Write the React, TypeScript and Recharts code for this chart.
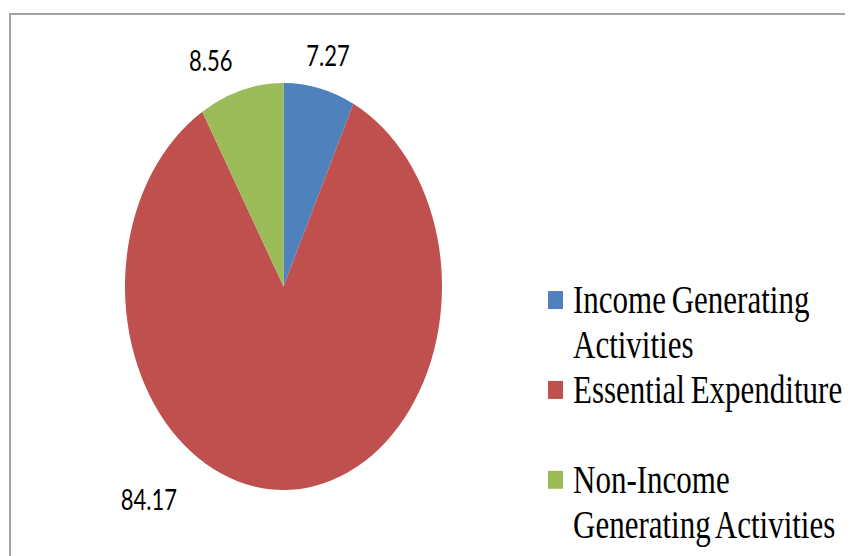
import React from "react";
import {Legend, Pie, PieChart} from "recharts";

const categories = ["Income Generating Activities", "Essential Expenditure", "Non-Income Generating Activities"];
const shares = [7.27, 84.17, 8.56];
const colors = ["#4F81BD", "#C0504D", "#9BBB59"];

// the original picture is stretched vertically, so the whole chart is scaled on y
const stretchY = 1.284;
const RADIAN = Math.PI / 180;

// per-slice nudge of the value labels (Excel "best fit" placement)
const labelNudge = [
    [3, -2],
    [-142, -18],
    [-24, 0.5],
];

const data = categories.map((name, i) => ({name, value: shares[i], fill: colors[i]}));

const renderLabel = (props: any) => {
    const {cx, cy, midAngle, outerRadius, value, index} = props;
    const r = outerRadius + 25;
    const x = cx + r * Math.cos(-midAngle * RADIAN) + labelNudge[index][0];
    const y = cy + r * Math.sin(-midAngle * RADIAN) + labelNudge[index][1];
    return (
        <text x={x} y={y} textAnchor="middle" dominantBaseline="central" fill="#000"
              fontFamily="Lato, 'Open Sans', sans-serif" fontSize={22}>
            {value.toFixed(2)}
        </text>
    );
};

const renderLegend = (props: any) => {
    // keep the data order (the legend sorts its items by name otherwise)
    const payload = [...(props.payload || [])].sort(
        (a: any, b: any) => categories.indexOf(a.value) - categories.indexOf(b.value)
    );
    return (
        <div style={{fontFamily: "'Liberation Serif', 'Times New Roman', serif", fontSize: 31, lineHeight: '35px', color: '#000'}}>
            {payload.map((entry: any, i: number) => (
                <div key={i} style={{position: 'relative', height: 70}}>
                    <div style={{position: 'absolute', left: 0, top: 11, width: 15, height: 14, background: entry.color}}/>
                    <div style={{position: 'absolute', left: 25, top: 0, width: 290, wordSpacing: -2}}>{entry.value}</div>
                </div>
            ))}
        </div>
    );
};

export default function App() {
    return (
        <div style={{position: 'relative', width: 845, height: 548, overflow: 'hidden'}}>
            <div style={{position: 'absolute', left: 1, top: 5, width: 900, height: 600, border: '2px solid #a3a3a3', background: '#fff'}}>
                <div style={{transform: `scaleY(${stretchY})`, transformOrigin: 'top left', width: 850, height: 425}}>
                    <PieChart width={850} height={425} margin={{top: 0, right: 0, bottom: 0, left: 0}}>
                        <Pie
                            data={data}
                            dataKey="value"
                            nameKey="name"
                            cx={272.5}
                            cy={211.4}
                            outerRadius={158.5}
                            startAngle={90}
                            endAngle={-270}
                            stroke="none"
                            label={renderLabel}
                            labelLine={false}
                            isAnimationActive={false}
                        />
                        <Legend
                            content={renderLegend}
                            layout="vertical"
                            wrapperStyle={{left: 537, top: 204, width: 320}}
                        />
                    </PieChart>
                </div>
            </div>
        </div>
    );
}
